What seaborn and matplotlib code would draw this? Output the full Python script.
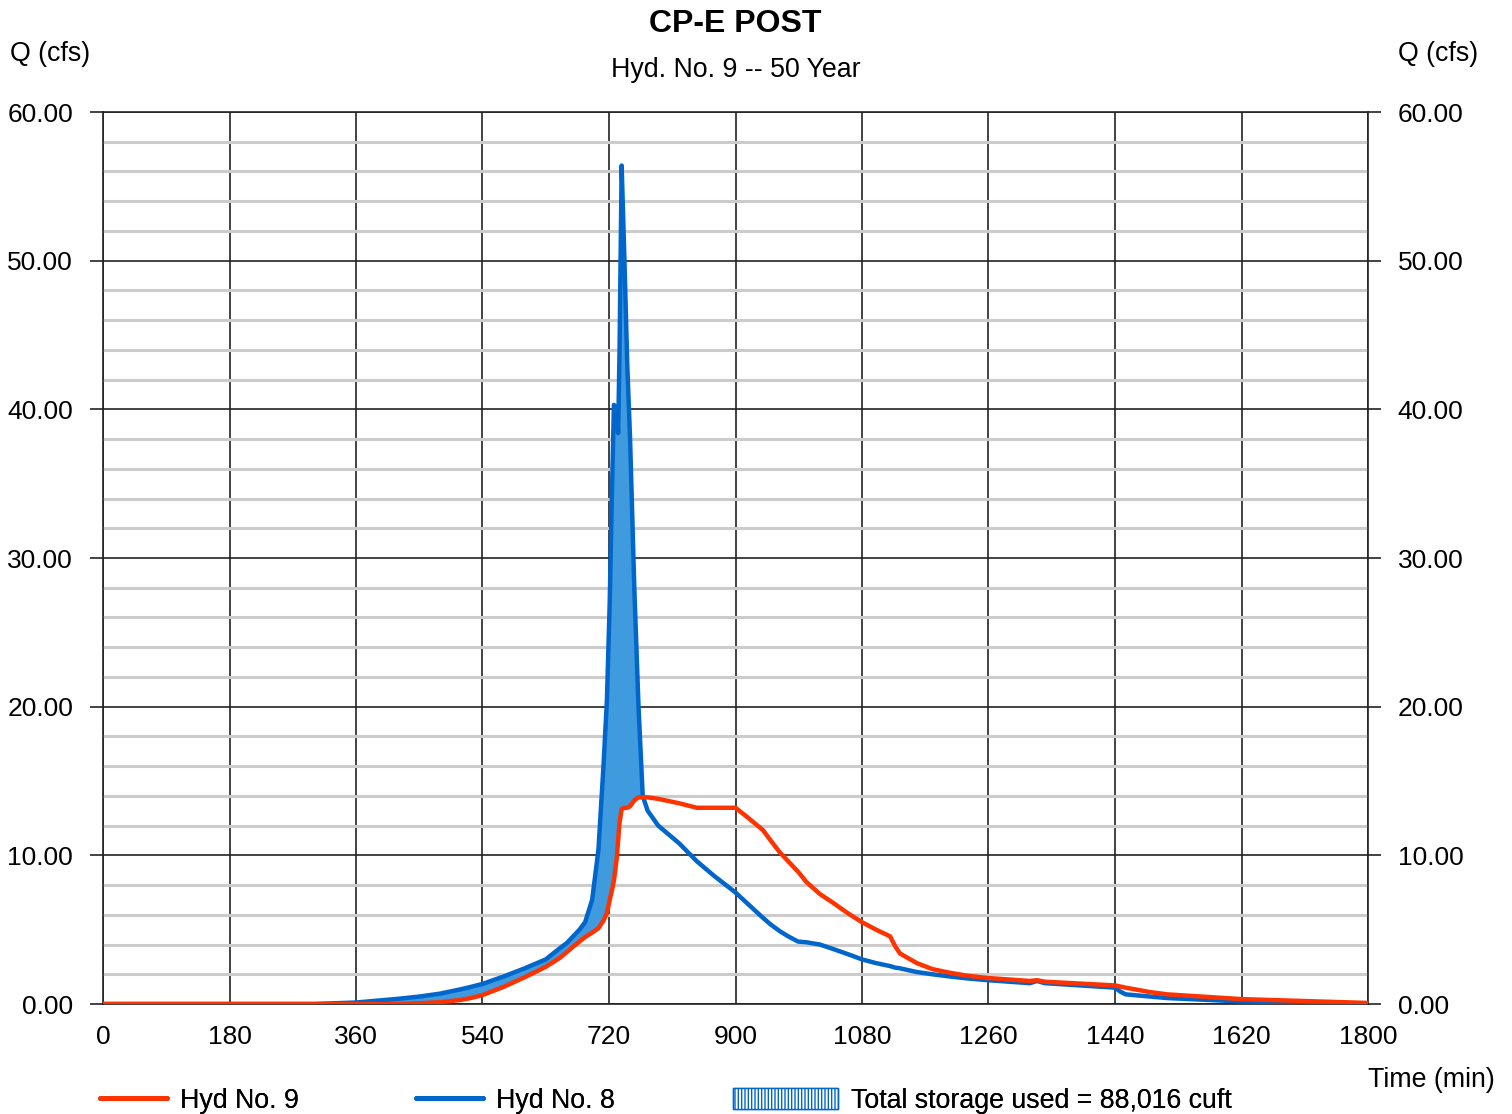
import matplotlib
matplotlib.use("Agg")
import matplotlib.pyplot as plt
from matplotlib.lines import Line2D
from matplotlib.patches import Patch
from matplotlib.ticker import MultipleLocator, FormatStrFormatter
import pandas as pd
import seaborn as sns

# time steps (min)
time_min = [0, 300, 360, 420, 450, 480, 510, 525, 540, 570, 600, 615, 630, 650, 660,
            670, 678, 686, 696, 705, 712, 717, 721, 724, 727, 731, 733, 735, 738,
            742, 746, 750, 756, 762, 768, 775, 790, 820, 845, 870, 900, 916, 939,
            950, 963, 975, 989, 1001, 1020, 1039, 1060, 1080, 1100, 1120, 1127,
            1134, 1158, 1180, 1205, 1230, 1259, 1319, 1329, 1340, 1440, 1447,
            1455, 1490, 1514, 1620, 1800]

# Hyd No. 8 (inflow)
hyd8 = [0, 0, 0.1, 0.35, 0.5, 0.7, 1.0, 1.17, 1.35, 1.85, 2.4, 2.7, 3.0, 3.75, 4.1,
        4.6, 5.0, 5.5, 7.0, 10.4, 15.9, 20.4, 27, 34, 40.3, 40.0, 38.4, 44, 56.4,
        50, 43, 38, 28, 20, 14, 13.0, 12.0, 10.8, 9.6, 8.6, 7.5, 6.8, 5.8,
        5.35, 4.9, 4.55, 4.2, 4.15, 4.0, 3.7, 3.35, 3.0, 2.75, 2.55, 2.45,
        2.4, 2.15, 2.0, 1.85, 1.72, 1.6, 1.4, 1.55, 1.4, 1.1, 0.85,
        0.65, 0.5, 0.4, 0.17, 0.03]

# Hyd No. 9 (outflow)
hyd9 = [0, 0, 0, 0.0, 0.05, 0.12, 0.28, 0.42, 0.6, 1.15, 1.8, 2.15, 2.5, 3.1, 3.5,
        3.9, 4.2, 4.5, 4.8, 5.1, 5.6, 6.1, 7.0, 7.6, 8.3, 9.8, 11, 12.2, 13.1,
        13.2, 13.2, 13.3, 13.7, 13.9, 13.9, 13.9, 13.8, 13.5, 13.2, 13.2, 13.2, 12.6, 11.7,
        11.0, 10.2, 9.6, 8.9, 8.2, 7.4, 6.8, 6.1, 5.5, 5.0, 4.55, 3.9,
        3.4, 2.75, 2.35, 2.1, 1.9, 1.75, 1.55, 1.6, 1.5, 1.25, 1.18,
        1.1, 0.8, 0.65, 0.33, 0.07]

x_ticks = list(range(0, 1801, 180))
storage_label = "Total storage used = 88,016 cuft"

RED = "#FF3300"
BLUE = "#0066CC"
FILL = "#3F9BDD"

sns.set_theme(style="white")
plt.rcParams["font.family"] = ["Liberation Sans", "DejaVu Sans"]
plt.rcParams["text.color"] = "black"
plt.rcParams["hatch.color"] = "#4A90D9"

df = pd.DataFrame({"time": time_min, "hyd8": hyd8, "hyd9": hyd9})

fig = plt.figure(figsize=(15.12, 11.14), dpi=100)
ax = fig.add_axes([103 / 1512, 1 - 1004 / 1114, 1265 / 1512, 892 / 1114])

ax.fill_between(df["time"], df["hyd9"], df["hyd8"], where=df["hyd8"] >= df["hyd9"],
                interpolate=True, color=FILL, lw=0, zorder=2)
sns.lineplot(data=df, x="time", y="hyd8", color=BLUE, lw=3.2, ax=ax, zorder=3,
             solid_capstyle="round", solid_joinstyle="round")
sns.lineplot(data=df, x="time", y="hyd9", color=RED, lw=3.2, ax=ax, zorder=4,
             solid_capstyle="round", solid_joinstyle="round")

ax.set_xlim(0, 1800)
ax.set_ylim(0, 60)
ax.set_xticks(x_ticks)
ax.yaxis.set_major_locator(MultipleLocator(10))
ax.yaxis.set_minor_locator(MultipleLocator(2))
ax.yaxis.set_major_formatter(FormatStrFormatter("%.2f"))
ax.set_xlabel("")
ax.set_ylabel("")

ax.grid(True, which="major", axis="both", color="#222222", lw=1.2, zorder=1)
ax.grid(True, which="minor", axis="y", color="#CCCCCC", lw=2.2, zorder=0)
ax.set_axisbelow(True)
for s in ax.spines.values():
    s.set_color("#222222")
    s.set_linewidth(1.2)

ax.tick_params(axis="y", which="major", left=True, right=True, labelleft=True,
               labelright=True, length=9.5, width=1.2, color="#222222",
               pad=12, labelsize=19, labelcolor="black")
ax.tick_params(axis="y", which="minor", left=False, right=False)
ax.tick_params(axis="x", length=0, pad=15, labelsize=19, labelcolor="black")

fig.text(735.5 / 1512, 1 - 24 / 1114, "CP-E POST", ha="center", va="center",
         fontsize=23, fontweight="bold")
fig.text(735.5 / 1512, 1 - 70 / 1114, "Hyd. No. 9 -- 50 Year", ha="center",
         va="center", fontsize=19.3)
fig.text(10 / 1512, 1 - 54 / 1114, "Q (cfs)", ha="left", va="center", fontsize=19.3)
fig.text(1478 / 1512, 1 - 54 / 1114, "Q (cfs)", ha="right", va="center", fontsize=19.3)
fig.text(1495 / 1512, 1 - 1080 / 1114, "Time (min)", ha="right", va="center",
         fontsize=19.3)

leg_y = 1 - 1101 / 1114
items = [
    (Line2D([], [], color=RED, lw=3.5), "Hyd No. 9", 100, 2.5),
    (Line2D([], [], color=BLUE, lw=3.5), "Hyd No. 8", 416, 2.5),
    (Patch(facecolor="white", edgecolor=BLUE, hatch="|||||", lw=1), storage_label, 733, 3.9),
]
for handle, label, px, hl in items:
    leg = fig.legend([handle], [label], loc="center left",
                     bbox_to_anchor=(px / 1512, leg_y), frameon=False,
                     fontsize=19.3, handlelength=hl, handleheight=0.8,
                     handletextpad=0.5, borderpad=0, borderaxespad=0)
    fig.add_artist(leg)

fig.savefig("out.png", dpi=100)
